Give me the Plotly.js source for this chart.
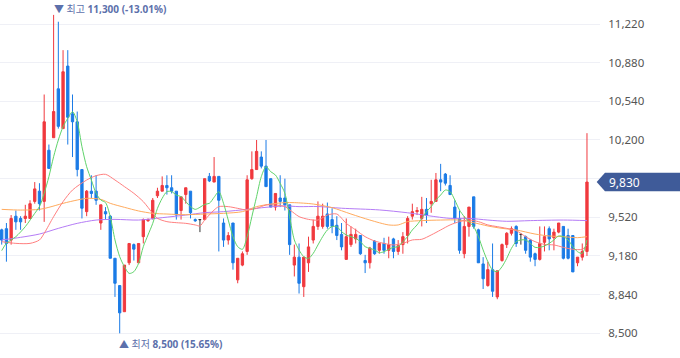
<!DOCTYPE html>
<html><head><meta charset="utf-8">
<script src="https://cdn.plot.ly/plotly-3.0.1.min.js"></script>
<style>html,body{margin:0;padding:0;background:#fff;}#chart{width:680px;height:358px;}</style>
</head><body><div id="chart"></div>
<script>
// Daily OHLC (KRW), oldest -> newest
const openP  = [9410,9420,9320,9530,9510,9510,9510,9660,9750,9660,10110,10220,10650,10300,10850,10430,10360,9940,9570,9750,9750,9470,9570,9530,9160,8920,8690,9120,9280,9120,9350,9490,9510,9710,9750,9800,9780,9750,9580,9720,9750,9500,9500,9500,9880,9830,9880,9470,9320,9470,8970,9100,9220,9860,9940,10050,9970,9860,9610,9690,9690,9630,9100,9170,8910,9120,9320,9440,9440,9550,9500,9450,9370,9150,9280,9330,9360,9140,9120,9310,9230,9290,9230,9330,9220,9280,9360,9530,9570,9510,9590,9640,9660,9850,9900,9800,9610,9510,9200,9440,9700,9410,9110,8920,9060,8820,9140,9280,9380,9440,9370,9350,9320,9200,9150,9300,9420,9340,9390,9440,9360,9360,9120,9170,9220];
const highP  = [9420,9470,9540,9580,9530,9630,9670,9830,9820,10600,10160,11300,11240,10990,10990,10600,10450,9940,9760,9890,9890,9630,9610,9540,9160,8920,9100,9290,9290,9290,9510,9510,9690,9780,9880,9890,9890,9750,9700,9780,9750,9510,9500,9860,9910,10050,9880,9510,9390,9470,9160,9220,9890,10100,10200,10100,10200,9860,9730,9890,9860,9630,9280,9290,9170,9350,9500,9660,9640,9650,9600,9530,9470,9510,9440,9420,9360,9190,9260,9320,9290,9340,9350,9340,9320,9390,9530,9640,9610,9700,9690,9850,9910,9990,9910,9890,9670,9580,9530,9610,9700,9420,9170,9130,9290,9050,9290,9390,9440,9450,9370,9360,9330,9210,9440,9440,9440,9420,9470,9440,9420,9360,9170,9290,10260];
const lowP   = [9280,9130,9280,9410,9410,9470,9510,9640,9580,9480,9950,10220,10300,10300,10160,10050,9880,9510,9530,9690,9630,9410,9500,9160,8820,8500,8690,9100,9140,9120,9290,9480,9500,9690,9750,9720,9730,9500,9500,9640,9510,9480,9390,9500,9830,9830,9220,9260,9280,9060,8940,9090,9190,9850,9940,9950,9790,9610,9580,9610,9580,9190,9000,8850,8820,9040,9290,9410,9420,9420,9380,9320,9230,9150,9260,9290,9190,9030,9070,9190,9200,9200,9160,9160,9190,9200,9290,9500,9540,9440,9470,9560,9660,9750,9800,9720,9470,9200,9160,9350,9420,9120,8890,8910,8820,8800,9130,9250,9360,9260,9280,9200,9130,9090,9140,9220,9230,9230,9380,9150,9150,9040,9090,9140,9180];
const closeP = [9320,9290,9510,9480,9480,9530,9640,9770,9640,10360,9950,10450,10320,10800,10400,10360,9940,9600,9750,9730,9670,9630,9550,9160,8940,8680,9100,9290,9240,9290,9500,9500,9670,9750,9800,9780,9750,9540,9700,9780,9560,9490,9500,9860,9840,9880,9670,9320,9360,9120,9160,9200,9850,9940,10100,9970,9790,9610,9730,9660,9630,9280,9170,8940,9170,9260,9440,9530,9530,9440,9440,9360,9260,9350,9370,9370,9200,9120,9250,9200,9290,9230,9280,9220,9270,9350,9510,9570,9580,9590,9540,9660,9850,9830,9820,9720,9510,9230,9440,9610,9440,9120,8980,9060,8870,9050,9280,9380,9420,9290,9370,9230,9170,9150,9290,9350,9330,9390,9470,9160,9160,9040,9170,9220,9830];

// Moving averages (day index, value)
const ma5Day = [0,1,3,5,7,8,9,10,11,12,13,14,15,16,17,18,19,20,21,22,23,24,25,26,27,28,29,30,31,32,33,34,35,36,37,38,39,40,41,42,43,44,45,46,47,48,49,50,51,52,53,54,55,56,57,58,59,60,61,62,63,64,65,66,67,68,69,70,71,72,73,74,75,76,77,78,79,80,81,82,83,84,85,86,87,88,89,90,91,92,93,94,95,96,97,98,99,100,101,102,103,104,105,106,107,108,109,110,111,112,113,114,115,116,117,118,119,120,121,122,123,124];
const ma5    = [9227,9291,9350,9438,9555,9614,9731,9878,10053,10200,10317,10390,10449,10361,10141,9965,9848,9731,9672,9649,9526,9321,9174,9086,9027,9042,9115,9262,9365,9467,9599,9687,9746,9746,9716,9702,9658,9614,9590,9608,9634,9643,9696,9746,9643,9496,9350,9262,9239,9350,9526,9702,9878,9965,9921,9892,9819,9731,9526,9321,9233,9174,9159,9203,9277,9350,9409,9438,9438,9394,9365,9350,9335,9306,9262,9247,9233,9209,9218,9239,9256,9262,9306,9350,9409,9453,9511,9570,9614,9672,9716,9760,9746,9672,9584,9526,9482,9438,9350,9233,9130,9057,9042,9086,9159,9247,9306,9321,9321,9291,9256,9256,9268,9291,9321,9356,9350,9321,9262,9218,9203,9321];
const ma20Day = [0,3,6,8,9,11,13,15,18,20,22,24,26,28,30,32,33,35,37,39,41,42,43,45,46,48,50,52,54,56,58,60,62,63,65,67,69,71,73,75,77,79,81,83,85,87,89,91,93,95,97,99,101,103,105,107,109,111,113,115,117,119,121,123,124];
const ma20    = [9306,9291,9291,9321,9379,9526,9658,9760,9848,9886,9898,9848,9790,9731,9658,9555,9511,9482,9473,9467,9453,9444,9496,9584,9614,9614,9599,9584,9599,9628,9628,9614,9555,9526,9502,9496,9540,9549,9467,9409,9350,9312,9291,9277,9291,9321,9327,9365,9409,9453,9482,9496,9482,9453,9438,9423,9403,9350,9306,9282,9277,9256,9239,9239,9277];
const ma60Day = [0,4,8,10,13,16,18,21,23,26,29,32,35,39,43,47,51,54,57,60,62,66,70,74,78,82,84,86,89,93,97,100,103,106,109,113,116,119,122,124];
const ma60    = [9590,9584,9590,9608,9643,9672,9687,9678,9643,9608,9576,9555,9549,9543,9549,9555,9570,9614,9637,9649,9649,9637,9605,9549,9496,9453,9453,9482,9491,9496,9496,9473,9444,9423,9409,9373,9356,9350,9341,9350];
const ma120Day = [0,4,8,12,16,20,24,29,34,39,43,47,52,56,60,63,67,72,80,86,92,95,99,103,107,112,119,124];
const ma120    = [9321,9344,9373,9423,9467,9496,9502,9496,9517,9540,9561,9570,9590,9608,9620,9614,9615,9600,9585,9560,9525,9511,9511,9496,9485,9491,9496,9491];

const yTickVals = [8500,8840,9180,9520,9860,10200,10540,10880,11220];
const yTickText = ['8,500','8,840','9,180','9,520','','10,200','10,540','10,880','11,220'];

const RED = '#f0393e', BLUE = '#1b7be6', DOJI = '#333333';
const days = openP.map((_, i) => i);
const isDoji = days.map(i => openP[i] === closeP[i]);
const pick = (arr, keep) => arr.map((v, i) => keep(i) ? v : null);

const main = {
  type: 'candlestick', x: days,
  open: pick(openP, i => !isDoji[i]), high: pick(highP, i => !isDoji[i]),
  low: pick(lowP, i => !isDoji[i]), close: pick(closeP, i => !isDoji[i]),
  increasing: {line: {color: RED, width: 1}, fillcolor: RED},
  decreasing: {line: {color: BLUE, width: 1}, fillcolor: BLUE},
  whiskerwidth: 0, hoverinfo: 'skip'
};
const doji = {
  type: 'candlestick', x: days,
  open: pick(openP, i => isDoji[i]), high: pick(highP, i => isDoji[i]),
  low: pick(lowP, i => isDoji[i]), close: pick(closeP, i => isDoji[i]),
  increasing: {line: {color: DOJI, width: 1}, fillcolor: DOJI},
  decreasing: {line: {color: DOJI, width: 1}, fillcolor: DOJI},
  whiskerwidth: 0, hoverinfo: 'skip'
};
const maLine = (x, y, color) => ({type: 'scatter', mode: 'lines', x: x, y: y,
  line: {color: color, width: 1, shape: 'spline', smoothing: 0.8}, hoverinfo: 'skip'});

const traces = [main, doji,
  maLine(ma120Day, ma120, '#b57cf6'),
  maLine(ma60Day, ma60, '#ffab5e'),
  maLine(ma20Day, ma20, '#ff7f7f'),
  maLine(ma5Day, ma5, '#5fd36a')];

const last = closeP[closeP.length - 1];
const hi = Math.max(...highP), lo = Math.min(...lowP);
const hiIdx = highP.indexOf(hi), loIdx = lowP.indexOf(lo);
const fmt = v => v.toLocaleString('en-US');
const pct = v => ((last / v - 1) * 100).toFixed(2);
const LBL = '#5c70ab';
const annFont = {family: 'Noto Sans, Noto Sans CJK KR', size: 10, color: LBL};

const BADGE = '#3f5b99';
const h = 9.2 * (11431 - 8283) / 358;
const layout = {
  width: 680, height: 358, margin: {l: 0, r: 80, t: 0, b: 0},
  paper_bgcolor: '#ffffff', plot_bgcolor: '#ffffff', showlegend: false,
  xaxis: {range: [-0.36, 126.76], visible: false, rangeslider: {visible: false}, fixedrange: true},
  yaxis: {side: 'right', range: [8283, 11431], tickvals: yTickVals, ticktext: yTickText,
    gridcolor: '#eff0f6', gridwidth: 1, zeroline: false, showline: false,
    ticks: 'outside', ticklen: 5, tickcolor: 'rgba(0,0,0,0)',
    tickfont: {family: 'Noto Sans', size: 11.5, color: '#555555'}, fixedrange: true},
  shapes: [{type: 'path', xref: 'paper', yref: 'y', layer: 'above', line: {width: 0}, fillcolor: BADGE,
    path: `M 0.9945 ${last} L 1.0083 ${last + h} L 1.1333 ${last + h} L 1.1333 ${last - h} L 1.0083 ${last - h} Z`}],
  annotations: [
    {xref: 'x', yref: 'y', x: hiIdx, y: hi, xanchor: 'left', yanchor: 'bottom', showarrow: false,
     xshift: -2, yshift: -3, font: annFont,
     text: `▼ 최고 <b>${fmt(hi)} (${pct(hi)}%)</b>`},
    {xref: 'x', yref: 'y', x: loIdx, y: lo, xanchor: 'left', yanchor: 'top', showarrow: false,
     xshift: -3, yshift: -2, font: annFont,
     text: `▲ 최저 <b>${fmt(lo)} (${pct(lo)}%)</b>`},
    {xref: 'paper', yref: 'y', x: 1.012, y: last, xanchor: 'left', yanchor: 'middle', showarrow: false,
     font: {family: 'Noto Sans', size: 12, color: '#ffffff'}, text: fmt(last)}
  ]
};
Plotly.newPlot('chart', traces, layout, {staticPlot: true, displayModeBar: false});
</script></body></html>
